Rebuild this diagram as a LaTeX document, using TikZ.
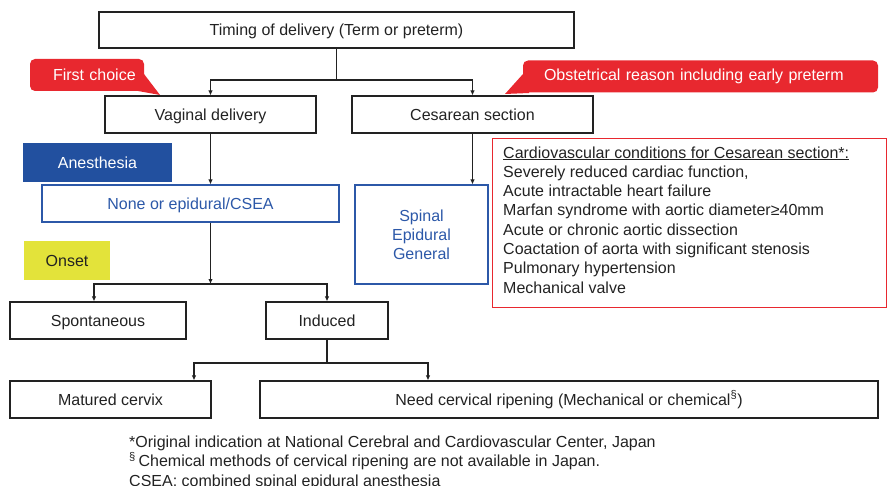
\documentclass[tikz,border=0pt]{standalone}
\usepackage{fontspec}
\setmainfont{Liberation Sans}
\usetikzlibrary{arrows.meta}
\definecolor{calred}{HTML}{E8282F}
\definecolor{anblue}{HTML}{22509F}
\definecolor{tblue}{HTML}{2C58A8}
\definecolor{onsety}{HTML}{E3E33A}
\definecolor{ink}{HTML}{222222}
\newcommand{\myfs}{\fontsize{16}{19.2}\selectfont}
\begin{document}
\begin{tikzpicture}[x=1pt,y=-1pt,
  box/.style={draw=ink, line width=1.1pt, inner sep=0pt, minimum height=37pt, text=ink, font=\myfs},
  oneline/.style={text height=11.5pt, text depth=0pt},
  bluebox/.style={box, draw=tblue, text=tblue},
  conn/.style={draw=ink, line width=1.1pt},
  arr/.style={conn, -{Latex[length=5pt,width=4.5pt]}},
  callout/.style={fill=calred, rounded corners=5pt, inner ysep=0pt, minimum height=32pt, text=white, font=\myfs},
  tag/.style={inner sep=0pt, font=\myfs},
]
\useasboundingbox (0,0) rectangle (888,486);

% main boxes
\node[box, oneline, minimum width=475pt, minimum height=36pt] (top) at (336.5,30) {Timing of delivery (Term or preterm)};
\node[box, oneline, minimum width=211pt] (vag) at (210.5,114.5) {Vaginal delivery};
\node[box, oneline, minimum width=241pt] (ces) at (472.5,114.5) {Cesarean section};
\node[bluebox, oneline, minimum width=297pt] (none) at (190.5,203.5) {None or epidural/CSEA};
\node[bluebox, minimum width=133pt, minimum height=99pt, align=center] (spinal) at (421.5,234.5) {Spinal\\Epidural\\General};
\node[box, oneline, minimum width=176pt] (spont) at (98,320.5) {Spontaneous};
\node[box, oneline, minimum width=122pt] (induced) at (327,320.5) {Induced};
\node[box, oneline, minimum width=201pt] (matured) at (110.5,399.5) {Matured cervix};
\node[box, oneline, minimum width=618pt] (need) at (569,399.5) {Need cervical ripening (Mechanical or chemical\textsuperscript{§})};

% tags
\node[tag, oneline, fill=anblue, text=white, minimum width=149pt, minimum height=39pt] (anes) at (97.5,162.5) {Anesthesia};
\node[tag, oneline, fill=onsety, text=ink, minimum width=86pt, minimum height=39pt] (onset) at (67,260.5) {Onset};

% callouts
\fill[calred] (138,74) -- (144,74) -- (160,95) -- (138,91) -- cycle;
\node[callout, inner xsep=8.3pt, text width=97.4pt, align=right] (first) at (87,75) {First choice};
\fill[calred] (529,74) -- (523,74) -- (505,94) -- (529,93) -- cycle;
\node[callout, inner xsep=21pt, text width=313pt, align=left] (obst) at (700.5,76.5) {Obstetrical reason including early preterm};

% cardiovascular box
\node[draw=calred, line width=0.8pt, inner sep=0pt, minimum width=394pt, minimum height=169pt] (cardio) at (689,222.5) {};
\node[anchor=north west, inner sep=0pt, align=left, text=ink, font=\fontsize{16}{19.3}\selectfont] (cvtext) at (503,146.3) {\underline{Cardiovascular conditions for Cesarean section*:}\\
Severely reduced cardiac function,\\
Acute intractable heart failure\\
Marfan syndrome with aortic diameter≥40mm\\
Acute or chronic aortic dissection\\
Coactation of aorta with significant stenosis\\
Pulmonary hypertension\\
Mechanical valve};

% notes
\node[anchor=north west, inner sep=0pt, align=left, text=ink, font=\fontsize{16}{19.5}\selectfont] (notes) at (129,435.3) {*Original indication at National Cerebral and Cardiovascular Center, Japan\\
\textsuperscript{§}\,Chemical methods of cervical ripening are not available in Japan.\\
CSEA: combined spinal epidural anesthesia};

% connectors
\coordinate (j1) at (336.5,80);
\draw[conn] (top.south) -- (j1);
\draw[arr] (j1) -| (vag.north);
\draw[arr] (j1) -| (ces.north);
\draw[arr] (vag.south) -- (vag.south |- none.north);
\draw[arr] (ces.south) -- (ces.south |- spinal.north);
\coordinate (j2) at (210.5,284);
\draw[arr] (vag.south |- none.south) -- (j2);
\coordinate (sp) at (94,284);
\draw[arr] (j2) -- (sp) -- (sp |- spont.north);
\draw[arr] (j2) -| (induced.north);
\coordinate (j3) at (327,363);
\draw[conn] (induced.south) -- (j3);
\coordinate (mt) at (194,363);
\coordinate (nd) at (428,363);
\draw[arr] (j3) -- (mt) -- (mt |- matured.north);
\draw[arr] (j3) -- (nd) -- (nd |- need.north);
\end{tikzpicture}
\end{document}
